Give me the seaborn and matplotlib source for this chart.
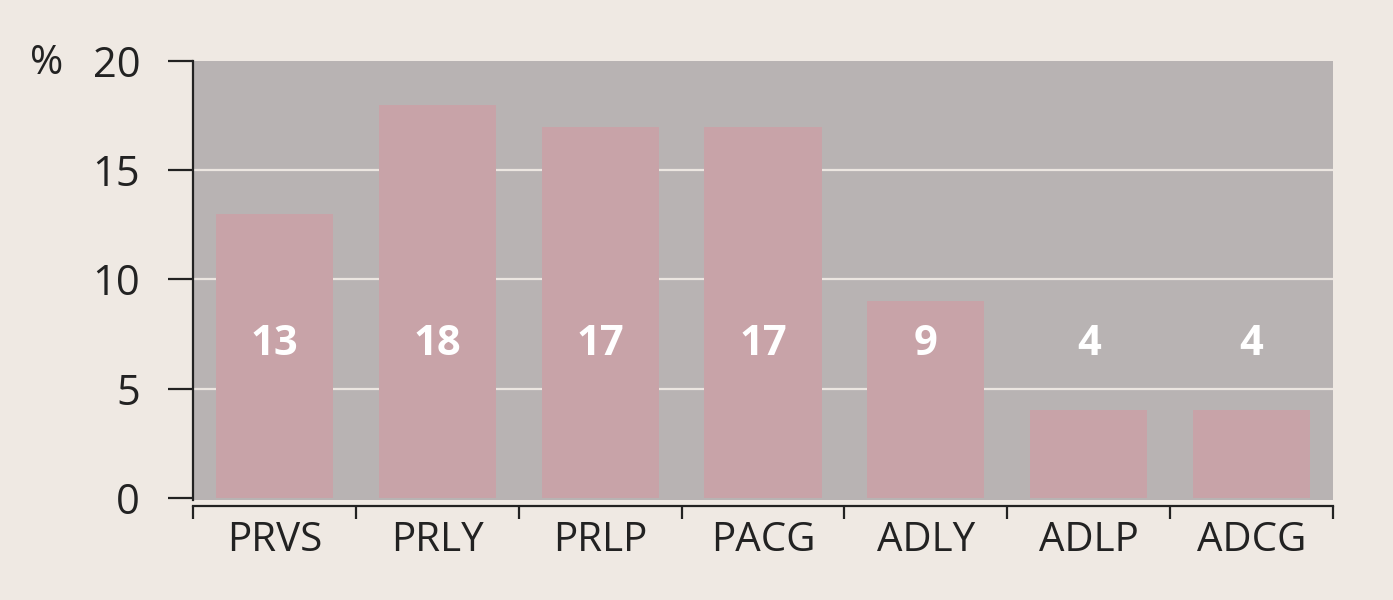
import matplotlib
matplotlib.use("Agg")
import matplotlib.pyplot as plt
import seaborn as sns
import pandas as pd

# values
groups = ["PRVS", "PRLY", "PRLP", "PACG", "ADLY", "ADLP", "ADCG"]
percent = [13, 18, 17, 17, 9, 4, 4]
label_y = 7  # value labels all sit at the same height
yticks = [0, 5, 10, 15, 20]

bg = "#EFE9E3"
panel = "#B8B3B3"
barcol = "#C8A3A8"
ink = "#222222"

sns.set_style("white")
plt.rcParams["font.family"] = ["Open Sans", "DejaVu Sans"]

df = pd.DataFrame({"group": groups, "percent": percent})

fig = plt.figure(figsize=(13.93, 6), dpi=100, facecolor=bg)
ax = fig.add_axes([193 / 1393, 1 - 500 / 600, (1333 - 193) / 1393, (500 - 61) / 600])
ax.set_facecolor(panel)

sns.barplot(data=df, x="group", y="percent", color=barcol, saturation=1,
            width=0.72, linewidth=0, edgecolor="none", ax=ax, zorder=2)

ax.set_ylim(-0.1, 20)
ax.set_xlim(-0.5, len(groups) - 0.5)
ax.set_yticks(yticks)
for yv in yticks[1:-1]:
    ax.axhline(yv, color="#ECE6E1", lw=1.6, zorder=1)

for i, v in enumerate(percent):
    ax.text(i, label_y, str(v), ha="center", va="center", color="white",
            fontsize=30, fontweight="bold", zorder=3)

for s in ["top", "right"]:
    ax.spines[s].set_visible(False)
ax.spines["left"].set_color(ink)
ax.spines["left"].set_linewidth(1.6)
ax.spines["bottom"].set_color(ink)
ax.spines["bottom"].set_linewidth(1.6)
ax.spines["bottom"].set_position(("outward", 4))

ax.tick_params(axis="y", length=18, width=1.6, color=ink, pad=20,
               labelsize=30, labelcolor=ink, left=True)
ax.tick_params(axis="x", which="major", length=0, pad=11,
               labelsize=29, labelcolor=ink)
ax.set_xticks([i - 0.5 for i in range(len(groups) + 1)], minor=True)
ax.tick_params(axis="x", which="minor", length=9, width=1.6, color=ink,
               bottom=True)

ax.set_xlabel("")
ax.set_ylabel("")
fig.text(47 / 1393, 1 - 64 / 600, "%", ha="center", va="center",
         fontsize=29, color=ink)

fig.savefig("out.png", dpi=100, facecolor=bg)
